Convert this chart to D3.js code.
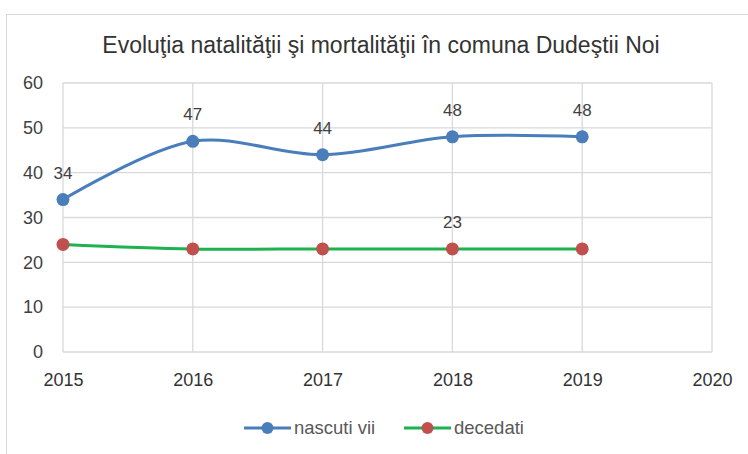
<!DOCTYPE html>
<meta charset="utf-8">
<html>
<head>
  <script src="https://d3js.org/d3.v7.min.js"></script>
  <style>
    body { margin: 0; background: #fff; }
    text { font-family: "Liberation Sans", Arial, sans-serif; }
  </style>
</head>
<body>
  <svg></svg>
  <script type="text/javascript">
    // chart data
    var years = [2015, 2016, 2017, 2018, 2019]
    var nascuti = [34, 47, 44, 48, 48]
    var decedati = [24, 23, 23, 23, 23]
    var xTicks = [2015, 2016, 2017, 2018, 2019, 2020]
    var yTicks = [0, 10, 20, 30, 40, 50, 60]
    // which points carry a value label
    var nascutiLabels = [true, true, true, true, true]
    var decedatiLabels = [false, false, false, true, false]

    const width = 748, height = 454
    const svg = d3.select('svg').attr('width', width).attr('height', height)

    // frame of the chart box
    svg.append('rect')
      .attr('x', 6.5).attr('y', 14.5)
      .attr('width', 760).attr('height', 460)
      .attr('fill', 'none').attr('stroke', '#d9d9d9')

    svg.append('text')
      .attr('x', 381).attr('y', 53)
      .attr('text-anchor', 'middle')
      .attr('font-size', 23)
      .attr('fill', '#333')
      .text('Evoluţia natalităţii şi mortalităţii în comuna Dudeştii Noi')

    const x = d3.scaleLinear().domain([2015, 2020]).range([63, 712])
    const y = d3.scaleLinear().domain([0, 60]).range([352, 83])

    // gridlines
    svg.append('g').selectAll('line').data(yTicks).enter().append('line')
      .attr('x1', x(2015)).attr('x2', x(2020))
      .attr('y1', d => y(d)).attr('y2', d => y(d))
      .attr('stroke', '#d9d9d9').attr('stroke-width', 1.3)
    svg.append('g').selectAll('line').data(xTicks).enter().append('line')
      .attr('x1', d => x(d)).attr('x2', d => x(d))
      .attr('y1', y(0)).attr('y2', y(60))
      .attr('stroke', '#d9d9d9').attr('stroke-width', 1.3)

    const yAxis = svg.append('g')
      .attr('transform', 'translate(' + x(2015) + ',0)')
      .call(d3.axisLeft(y).tickValues(yTicks).tickSize(0).tickPadding(20))
    yAxis.select('.domain').remove()
    yAxis.selectAll('text').attr('font-size', 18).attr('fill', '#404040')
      .style('font-family', '"Liberation Sans", Arial, sans-serif')

    const xAxis = svg.append('g')
      .attr('transform', 'translate(0,' + y(0) + ')')
      .call(d3.axisBottom(x).tickValues(xTicks).tickFormat(d3.format('d')).tickSize(0).tickPadding(21))
    xAxis.select('.domain').remove()
    xAxis.selectAll('text').attr('font-size', 18).attr('fill', '#333')
      .style('font-family', '"Liberation Sans", Arial, sans-serif')

    const line = d3.line()
      .x(d => x(d[0])).y(d => y(d[1]))
      .curve(d3.curveCatmullRom.alpha(0.5))

    function drawSeries(values, lineColor, dotColor, labels) {
      var pts = years.map((yr, i) => [yr, values[i]])
      svg.append('path').datum(pts)
        .attr('d', line)
        .attr('fill', 'none')
        .attr('stroke', lineColor)
        .attr('stroke-width', 3)
      svg.append('g').selectAll('circle').data(pts).enter().append('circle')
        .attr('cx', d => x(d[0])).attr('cy', d => y(d[1]))
        .attr('r', 6.5).attr('fill', dotColor)
      svg.append('g').selectAll('text').data(pts.filter((d, i) => labels[i])).enter().append('text')
        .attr('x', d => x(d[0])).attr('y', d => y(d[1]) - 21)
        .attr('text-anchor', 'middle')
        .attr('font-size', 17).attr('fill', '#404040')
        .text(d => d[1])
    }

    drawSeries(decedati, '#1db150', '#c0504d', decedatiLabels)
    drawSeries(nascuti, '#4a7ebb', '#4a7ebb', nascutiLabels)

    // legend
    var legend = [
      { name: 'nascuti vii', line: '#4a7ebb', dot: '#4a7ebb', x: 244 },
      { name: 'decedati', line: '#1db150', dot: '#c0504d', x: 404 }
    ]
    var lg = svg.append('g').selectAll('g').data(legend).enter().append('g')
      .attr('transform', d => 'translate(' + d.x + ',428)')
    lg.append('line').attr('x1', 0).attr('x2', 47)
      .attr('stroke', d => d.line).attr('stroke-width', 3)
    lg.append('circle').attr('cx', 23.5).attr('r', 6).attr('fill', d => d.dot)
    lg.append('text').attr('x', 50).attr('y', 6)
      .attr('font-size', 18.5).attr('fill', '#595959')
      .text(d => d.name)
  </script>
</body>
</html>
